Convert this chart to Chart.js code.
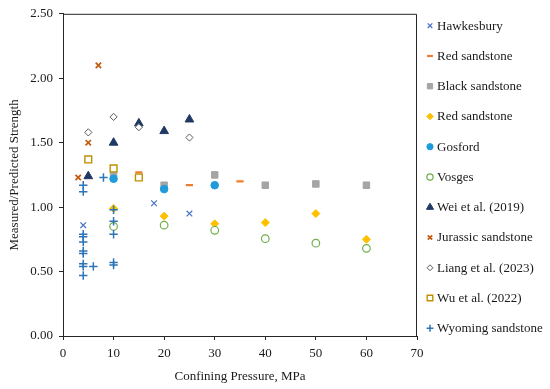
<!DOCTYPE html>
<html>
<head>
<meta charset="utf-8">
<script src="https://cdn.jsdelivr.net/npm/chart.js"></script>
<style>
  html, body { margin: 0; padding: 0; background: #fff; }
  #wrap { width: 550px; height: 389px; }
</style>
</head>
<body>
<div id="wrap"><canvas id="c" width="550" height="389"></canvas></div>
<script>
// ---- Data ----
const seriesNames = ["Hawkesbury", "Red sandstone", "Black sandstone", "Red sandstone", "Gosford", "Vosges",
  "Wei et al. (2019)", "Jurassic sandstone", "Liang et al. (2023)", "Wu et al. (2022)", "Wyoming sandstone"];

const hawkesburyX = [4, 18, 25];
const hawkesburyY = [0.86, 1.03, 0.95];

const redSandstoneX = [5, 15, 25, 35];
const redSandstoneY = [1.35, 1.27, 1.17, 1.20];

const blackSandstoneX = [10, 20, 30, 40, 50, 60];
const blackSandstoneY = [1.26, 1.17, 1.25, 1.17, 1.18, 1.17];

const redSandstone2X = [10, 20, 30, 40, 50, 60];
const redSandstone2Y = [0.99, 0.93, 0.87, 0.88, 0.95, 0.75];

const gosfordX = [10, 20, 30];
const gosfordY = [1.22, 1.14, 1.17];

const vosgesX = [10, 20, 30, 40, 50, 60];
const vosgesY = [0.85, 0.86, 0.82, 0.755, 0.72, 0.68];

const weiX = [5, 10, 15, 20, 25];
const weiY = [1.24, 1.50, 1.65, 1.59, 1.68];

const jurassicX = [3, 5, 7];
const jurassicY = [1.23, 1.50, 2.10];

const liangX = [5, 10, 15, 25];
const liangY = [1.58, 1.70, 1.62, 1.54];

const wuX = [5, 10, 15];
const wuY = [1.37, 1.30, 1.23];

const wyomingX = [4, 4, 4, 4, 4, 4, 4, 4, 4, 4, 6, 8, 10, 10, 10, 10, 10];
const wyomingY = [1.17, 1.12, 0.79, 0.77, 0.73, 0.66, 0.64, 0.56, 0.54, 0.47, 0.54, 1.23, 0.98, 0.89, 0.79, 0.57, 0.55];

const xTicks = [0, 10, 20, 30, 40, 50, 60, 70];
const yTicks = [0, 0.5, 1.0, 1.5, 2.0, 2.5];

// ---- Build datasets ----
function pts(xs, ys) { return xs.map((x, i) => ({ x: x, y: ys[i] })); }

const styles = [
  { pointStyle: 'crossRot', pointRadius: 4,   borderColor: '#4472C4', backgroundColor: '#4472C4', borderWidth: 1.2 },
  { pointStyle: 'line',     pointRadius: 3.6, borderColor: '#ED7D31', backgroundColor: '#ED7D31', borderWidth: 2.2 },
  { pointStyle: 'rect',     pointRadius: 4.6, borderColor: '#A5A5A5', backgroundColor: '#A5A5A5', borderWidth: 1 },
  { pointStyle: 'rectRot',  pointRadius: 4,   borderColor: '#FFC000', backgroundColor: '#FFC000', borderWidth: 1 },
  { pointStyle: 'circle',   pointRadius: 3.8, borderColor: '#1F9BDB', backgroundColor: '#1F9BDB', borderWidth: 1 },
  { pointStyle: 'circle',   pointRadius: 3.8, borderColor: '#70AD47', backgroundColor: '#FFFFFF', borderWidth: 1.2 },
  { pointStyle: 'triangle', pointRadius: 5,   borderColor: '#203864', backgroundColor: '#203864', borderWidth: 1 },
  { pointStyle: 'crossRot', pointRadius: 3.8, borderColor: '#C55A11', backgroundColor: '#C55A11', borderWidth: 1.7 },
  { pointStyle: 'rectRot',  pointRadius: 3.6, borderColor: '#595959', backgroundColor: '#FFFFFF', borderWidth: 1 },
  { pointStyle: 'rect',     pointRadius: 4.8, borderColor: '#BF9000', backgroundColor: '#FFFFFF', borderWidth: 1.4 },
  { pointStyle: 'cross',    pointRadius: 4.2, borderColor: '#2E75B6', backgroundColor: '#2E75B6', borderWidth: 1.5 }
];

const seriesData = [
  pts(hawkesburyX, hawkesburyY),
  pts(redSandstoneX, redSandstoneY),
  pts(blackSandstoneX, blackSandstoneY),
  pts(redSandstone2X, redSandstone2Y),
  pts(gosfordX, gosfordY),
  pts(vosgesX, vosgesY),
  pts(weiX, weiY),
  pts(jurassicX, jurassicY),
  pts(liangX, liangY),
  pts(wuX, wuY),
  pts(wyomingX, wyomingY)
];

const datasets = seriesData.map((d, i) => Object.assign({
  label: seriesNames[i],
  data: d,
  showLine: false,
  order: -i,
  pointHoverRadius: styles[i].pointRadius
}, styles[i]));

const FONT = "'Liberation Serif', 'DejaVu Serif', serif";
const TEXT = '#1a1a1a';

// Frame around plot area
const framePlugin = {
  id: 'frame',
  afterDraw(chart) {
    const a = chart.chartArea, ctx = chart.ctx;
    ctx.save();
    ctx.strokeStyle = '#262626';
    ctx.lineWidth = 1;
    ctx.beginPath();
    ctx.moveTo(a.left, a.top + 0.5);
    ctx.lineTo(a.right - 0.5, a.top + 0.5);
    ctx.lineTo(a.right - 0.5, a.bottom);
    ctx.stroke();
    ctx.restore();
  }
};

// Legend on the right
const legendPlugin = {
  id: 'sideLegend',
  afterDraw(chart) {
    const ctx = chart.ctx;
    const mx = 430, tx = 437, y0 = 25.7, dy = 30.26;
    ctx.save();
    chart.data.datasets.forEach((ds, i) => {
      const y = y0 + dy * i;
      ctx.save();
      ctx.fillStyle = ds.backgroundColor;
      ctx.strokeStyle = ds.borderColor;
      ctx.lineWidth = ds.borderWidth;
      Chart.helpers.drawPoint(ctx, {
        pointStyle: ds.pointStyle,
        radius: ds.pointRadius * 0.82,
        rotation: 0,
        borderWidth: ds.borderWidth
      }, mx, y);
      ctx.restore();
      ctx.fillStyle = TEXT;
      ctx.font = "13px " + FONT;
      ctx.textAlign = 'left';
      ctx.textBaseline = 'middle';
      ctx.fillText(ds.label, tx, y + 0.5);
    });
    ctx.restore();
  }
};

new Chart(document.getElementById('c'), {
  type: 'scatter',
  data: { datasets: datasets },
  options: {
    responsive: false,
    animation: false,
    devicePixelRatio: 1,
    layout: { padding: { top: 12, right: 133, left: 0, bottom: 0 } },
    plugins: { legend: { display: false }, tooltip: { enabled: false } },
    scales: {
      x: {
        type: 'linear',
        min: xTicks[0], max: xTicks[xTicks.length - 1],
        afterBuildTicks(s) { s.ticks = xTicks.map(v => ({ value: v })); },
        afterFit(s) { s.height = 53; },
        grid: { drawOnChartArea: false, drawTicks: true, tickLength: 4, tickColor: '#262626' },
        border: { color: '#262626', width: 1 },
        ticks: { color: TEXT, font: { family: FONT, size: 13 }, padding: 6 },
        title: { display: true, text: 'Confining Pressure, MPa', color: TEXT,
                 font: { family: FONT, size: 13 }, padding: { top: 0, bottom: 5 } }
      },
      y: {
        type: 'linear',
        min: yTicks[0], max: yTicks[yTicks.length - 1],
        afterBuildTicks(s) { s.ticks = yTicks.map(v => ({ value: v })); },
        afterFit(s) { s.width = 63; },
        grid: { drawOnChartArea: false, drawTicks: true, tickLength: 4, tickColor: '#262626' },
        border: { color: '#262626', width: 1 },
        ticks: { color: TEXT, font: { family: FONT, size: 13 }, padding: 6,
                 callback: v => Number(v).toFixed(2) },
        title: { display: true, text: 'Measured/Predicted Strength', color: TEXT,
                 font: { family: FONT, size: 13 }, padding: { top: 7, bottom: 0 } }
      }
    }
  },
  plugins: [framePlugin, legendPlugin]
});
</script>
</body>
</html>
